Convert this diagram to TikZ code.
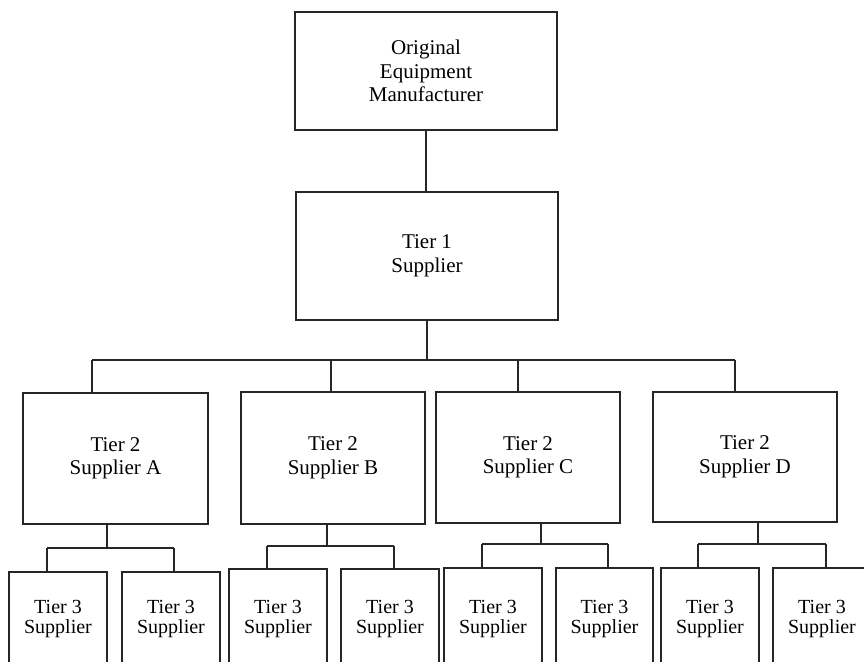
\documentclass[tikz,border=0pt]{standalone}
\usepackage{fontspec}
\setmainfont{Liberation Serif}
\begin{document}
\begin{tikzpicture}[x=1pt,y=-1pt,
  box/.style={draw=black!85, line width=1.1pt, rectangle, inner sep=0pt, align=center,
    font=\fontsize{21}{23.5}\selectfont},
  tbox/.style={draw=black!85, line width=1.1pt, rectangle, inner sep=0pt, align=center,
    font=\fontsize{20}{20}\selectfont, minimum width=98pt},
  conn/.style={draw=black!85, line width=1.1pt}]
\useasboundingbox (0,0) rectangle (864,661);
\clip (0,0) rectangle (864,661);
\fill[white] (0,0) rectangle (864,661);

% top levels
\node[box, minimum width=262pt, minimum height=118pt] (oem) at (426,71) {Original\\Equipment\\Manufacturer};
\node[box, minimum width=262pt, minimum height=128pt] (t1) at (427,256) {Tier 1\\Supplier};

% tier 2
\node[box, minimum width=185pt, minimum height=131pt] (t2a) at (115.5,458.5) {Tier 2\\Supplier A};
\node[box, minimum width=184pt, minimum height=132pt] (t2b) at (333,458) {Tier 2\\Supplier B};
\node[box, minimum width=184pt, minimum height=131pt] (t2c) at (528,457.5) {Tier 2\\Supplier C};
\node[box, minimum width=184pt, minimum height=130pt] (t2d) at (745,457) {Tier 2\\Supplier D};

% tier 3
\node[tbox, minimum height=94pt] (t3a1) at (58,619) {Tier 3\\Supplier};
\node[tbox, minimum height=94pt] (t3a2) at (171,619) {Tier 3\\Supplier};
\node[tbox, minimum height=100pt] (t3b1) at (278,619) {Tier 3\\Supplier};
\node[tbox, minimum height=100pt] (t3b2) at (390,619) {Tier 3\\Supplier};
\node[tbox, minimum height=102pt] (t3c1) at (493,619) {Tier 3\\Supplier};
\node[tbox, minimum height=102pt, minimum width=97pt] (t3c2) at (604.5,619) {Tier 3\\Supplier};
\node[tbox, minimum height=102pt] (t3d1) at (710,619) {Tier 3\\Supplier};
\node[tbox, minimum height=102pt] (t3d2) at (822,619) {Tier 3\\Supplier};

% connectors top
\draw[conn] (oem.south) -- (oem.south |- t1.north);
\coordinate (bus) at (428,360);
\draw[conn] (t1.south) -- (t1.south |- bus);
\coordinate (ja) at (92,360);
\coordinate (jb) at (331,360);
\coordinate (jc) at (518,360);
\coordinate (jd) at (735,360);
\draw[conn] (ja) -- (jd);
\draw[conn] (ja) -- (ja |- t2a.north);
\draw[conn] (jb) -- (jb |- t2b.north);
\draw[conn] (jc) -- (jc |- t2c.north);
\draw[conn] (jd) -- (jd |- t2d.north);

% sub tree A
\coordinate (sa) at (107,548);
\coordinate (sa1) at (47,548);
\coordinate (sa2) at (174,548);
\draw[conn] (sa |- t2a.south) -- (sa);
\draw[conn] (sa1) -- (sa2);
\draw[conn] (sa1) -- (sa1 |- t3a1.north);
\draw[conn] (sa2) -- (sa2 |- t3a2.north);

% sub tree B
\coordinate (sb) at (327,546);
\coordinate (sb1) at (267,546);
\coordinate (sb2) at (394,546);
\draw[conn] (sb |- t2b.south) -- (sb);
\draw[conn] (sb1) -- (sb2);
\draw[conn] (sb1) -- (sb1 |- t3b1.north);
\draw[conn] (sb2) -- (sb2 |- t3b2.north);

% sub tree C
\coordinate (sc) at (541,544);
\coordinate (sc1) at (482,544);
\coordinate (sc2) at (608,544);
\draw[conn] (sc |- t2c.south) -- (sc);
\draw[conn] (sc1) -- (sc2);
\draw[conn] (sc1) -- (sc1 |- t3c1.north);
\draw[conn] (sc2) -- (sc2 |- t3c2.north);

% sub tree D
\coordinate (sd) at (758,544);
\coordinate (sd1) at (698,544);
\coordinate (sd2) at (826,544);
\draw[conn] (sd |- t2d.south) -- (sd);
\draw[conn] (sd1) -- (sd2);
\draw[conn] (sd1) -- (sd1 |- t3d1.north);
\draw[conn] (sd2) -- (sd2 |- t3d2.north);
\end{tikzpicture}
\end{document}
